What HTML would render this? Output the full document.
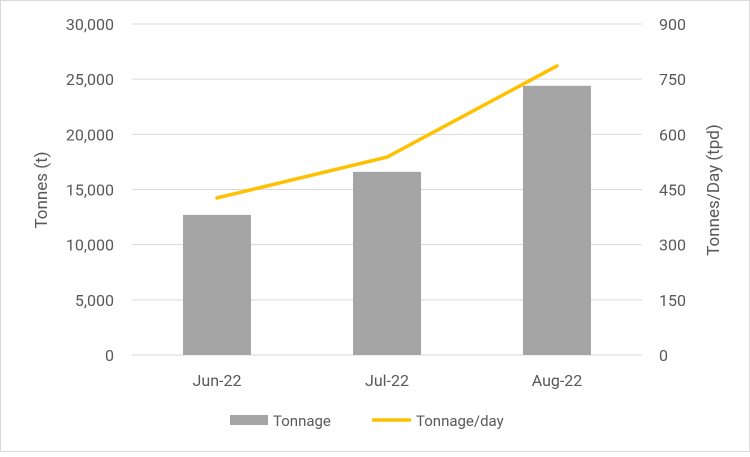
<!DOCTYPE html>
<html><head><meta charset="utf-8"><style>
body{margin:0;background:#fff;font-family:"Liberation Sans",Arial,sans-serif}
svg text{font-family:"Roboto","Liberation Sans",Arial,sans-serif;fill:#595959}
</style></head><body>
<svg width="750" height="452" viewBox="0 0 750 452">
<rect x="0.5" y="0.5" width="749" height="451" fill="#fff" stroke="#d9d9d9"/>
<g id="grid"></g><g id="bars"></g><g id="line"></g><g id="axes"></g>
<text x="0" y="0" font-size="17" transform="translate(47,190) rotate(-90)" text-anchor="middle">Tonnes (t)</text>
<text x="0" y="0" font-size="17" transform="translate(719,190) rotate(-90)" text-anchor="middle">Tonnes/Day (tpd)</text>
<g>
<rect x="230" y="415" width="38" height="10" fill="#a5a5a5"/>
<text x="273" y="426" font-size="15">Tonnage</text>
<line x1="372" y1="420" x2="411" y2="420" stroke="#ffc000" stroke-width="3.5"/>
<text x="416" y="426" font-size="15">Tonnage/day</text>
</g>
</svg>
<script>
const categories=["Jun-22","Jul-22","Aug-22"];
const tonnage=[12700,16600,24400];
const tonnagePerDay=[427,538,786];
const leftTicks=[0,5000,10000,15000,20000,25000,30000];
const rightTicks=[0,150,300,450,600,750,900];
const NS="http://www.w3.org/2000/svg";
const x0=132,x1=642,yB=355,yT=24;
const yL=v=>yB-(v/30000)*(yB-yT);
const yR=v=>yB-(v/900)*(yB-yT);
const band=(x1-x0)/categories.length;
const xC=i=>x0+band*(i+0.5);
function mk(t,a,p){const e=document.createElementNS(NS,t);for(const k in a)e.setAttribute(k,a[k]);p.appendChild(e);return e;}
const grid=document.getElementById('grid'),bars=document.getElementById('bars'),line=document.getElementById('line'),axes=document.getElementById('axes');
leftTicks.forEach((v,i)=>{
 const g=mk('line',{x1:x0,x2:x1,y1:yL(v),y2:yL(v),stroke:'#d9d9d9','stroke-width':1},grid);
 
 
 const t=mk('text',{x:114,y:yL(v)+6,'font-size':16,'text-anchor':'end'},axes);
 t.textContent=v.toLocaleString('en-US');
 
 
});
rightTicks.forEach(v=>{
 const t=mk('text',{x:659,y:yR(v)+6,'font-size':16,'text-anchor':'start'},axes);
 t.textContent=v;
 
 
});
const bw=68;
tonnage.forEach((v,i)=>{
 const r=mk('rect',{x:xC(i)-bw/2,y:yL(v),width:bw,height:yB-yL(v),fill:'#a5a5a5'},bars);
 
 
});
categories.forEach((c,i)=>{
 const t=mk('text',{x:xC(i),y:386,'font-size':16,'text-anchor':'middle'},axes);
 t.textContent=c;
 
 
});
const pl=mk('polyline',{points:tonnagePerDay.map((v,i)=>xC(i)+','+yR(v)).join(' '),fill:'none',stroke:'#ffc000','stroke-width':3.5,'stroke-linejoin':'round','stroke-linecap':'round'},line);


</script>
</body></html>
